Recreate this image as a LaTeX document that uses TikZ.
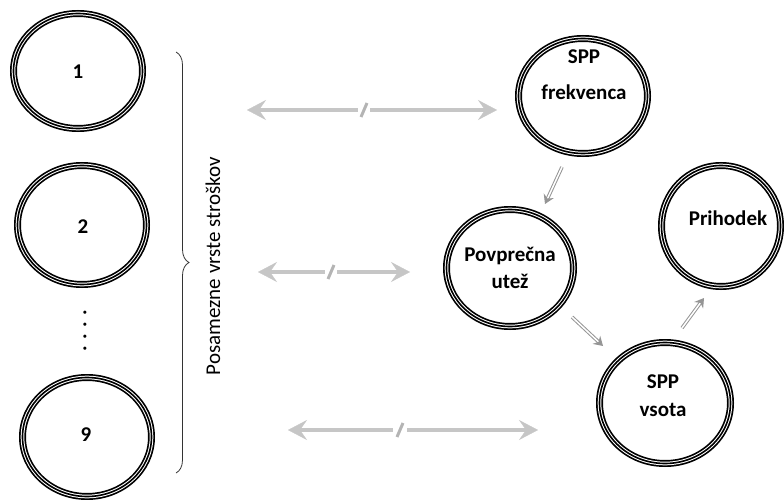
\documentclass[tikz,border=0pt]{standalone}
\usepackage{fontspec}
\setmainfont{Carlito}
\usetikzlibrary{arrows.meta,decorations.pathreplacing,shapes.geometric,calc}
\definecolor{hgray}{HTML}{C6C6C6}
\definecolor{sgray}{HTML}{B4B4B4}
\definecolor{dgray}{HTML}{959595}
\begin{document}
\begin{tikzpicture}[x=1pt,y=-1pt,
  ring/.style={ellipse, draw=black, line width=7pt, inner sep=0pt, outer sep=0pt,
    postaction={draw=white, line width=3.6pt},
    postaction={draw=black, line width=1.6pt}},
  lbl/.style={font=\fontsize{21}{25}\selectfont\bfseries, align=center, inner sep=0pt},
  harrow/.style={draw=hgray, line width=4pt},
  htip/.tip={Stealth[length=19pt,width=20pt,inset=7pt,line width=0.3pt]},
  slashline/.style={draw=sgray, line width=3pt},
  darrow/.style={draw=dgray, line width=1pt, double=white, double distance=1.5pt,
    -{Stealth[length=9pt,width=11pt,inset=3pt]}}
]
\useasboundingbox (0,0) rectangle (784,500);

% left circles
\node[ring, minimum width=129pt, minimum height=115pt] (c1) at (78,71) {};
\node[ring, minimum width=129pt, minimum height=119pt] (c2) at (82,225) {};
\node[ring, minimum width=129pt, minimum height=119pt] (c9) at (87,437) {};
\node[lbl] (t1) at (78,72) {1};
\node[lbl] (t2) at (83,227) {2};
\node[lbl] (t9) at (86,435) {9};
\node[rotate=90, font=\fontsize{21}{25}\selectfont\bfseries, inner sep=0pt] (dots) at (85,331) {. . . .};

% brace and label
\coordinate (bt) at (176,52);
\coordinate (bb) at (176,473);
\draw[line width=0.8pt, draw=black!80, decorate, decoration={brace, amplitude=13pt}] (bt) -- (bb);
\node[rotate=90, font=\fontsize{21}{25}\selectfont, inner sep=0pt] (lab) at (213,266) {Posamezne vrste stroškov};

% right circles
\node[ring, minimum width=129pt, minimum height=115pt] (fr) at (583,96) {};
\node[ring, minimum width=127pt, minimum height=117pt] (pov) at (510,268) {};
\node[ring, minimum width=131pt, minimum height=121pt] (vs) at (665,403) {};
\node[ring, minimum width=119pt, minimum height=121pt] (pr) at (721,226) {};
\node[lbl] (frt) at (584,75) {SPP\\[11pt]frekvenca};
\node[lbl] (povt) at (510,268) {Povprečna\\[2pt]utež};
\node[lbl] (vst) at (663,396) {SPP\\[3pt]vsota};
\node[lbl] (prt) at (728,218) {Prihodek};

% horizontal double-headed arrows with slash
\coordinate (a1l) at (247,110); \coordinate (a1r) at (497,110);
\coordinate (g1l) at (358,110); \coordinate (g1r) at (370,110); \coordinate (g1) at (364,110);
\coordinate (a2l) at (258,272); \coordinate (a2r) at (410,272);
\coordinate (g2l) at (325,272); \coordinate (g2r) at (337,272); \coordinate (g2) at (331,272);
\coordinate (a3l) at (288,430); \coordinate (a3r) at (538,430);
\coordinate (g3l) at (393,430); \coordinate (g3r) at (407,430); \coordinate (g3) at (400,430);
\foreach \i in {1,2,3}{
  \draw[harrow, {htip}-] (a\i l) -- (g\i l);
  \draw[harrow, -{htip}] (g\i r) -- (a\i r);
  \draw[slashline] ($(g\i)+(3,-7)$) -- ($(g\i)+(-3,7)$);
}

% diagonal arrows
\coordinate (d1s) at (562,167); \coordinate (d1e) at (545,204);
\coordinate (d2s) at (572,317); \coordinate (d2e) at (603,346);
\coordinate (d3s) at (682,328); \coordinate (d3e) at (704,298);
\draw[darrow] (d1s) -- (d1e);
\draw[darrow] (d2s) -- (d2e);
\draw[darrow] (d3s) -- (d3e);
\end{tikzpicture}
\end{document}
